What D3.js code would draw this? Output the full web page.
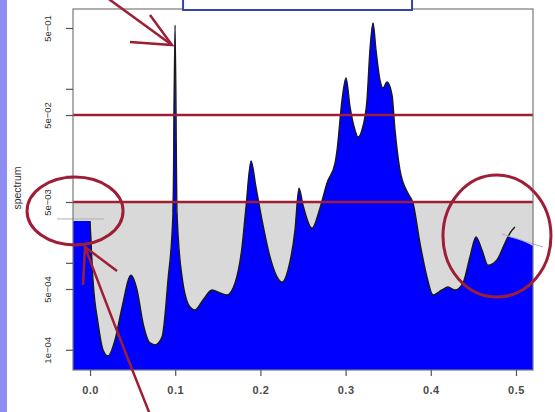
<!DOCTYPE html>
<meta charset="utf-8">
<style>
body { margin: 0; background: #fff; }
svg { display: block; }
</style>
<svg width="555" height="412"></svg>
<script src="https://d3js.org/d3.v7.min.js"></script>
<script>

// spectrum (frequency, spectral value)
const freq = [0, .0035, .0094, .0153, .0211, .0293, .0376, .0481, .0552, .0622,
  .0704, .0763, .0845, .0915, .0974, .0998, .1021, .108, .1174, .1232,
  .1326, .1432, .1526, .1608, .1702, .1784, .1831, .189, .1948, .2019,
  .2113, .2195, .2254, .2324, .2406, .2453, .25, .2606, .27, .2782,
  .2876, .29, .2958, .3005, .3052, .311, .3146, .3192, .3251, .3286,
  .3322, .3357, .3404, .3439, .3486, .3545, .358, .3638, .3732, .3791,
  .3873, .3955, .4026, .4131, .4202, .4284, .4378, .446, .4531, .4601,
  .4671, .4777, .4871, .493, .4988]
const spec = [3.03e-3, 6.3e-4, 2.03e-4, 9.95e-5, 8.5e-5, 1.3e-4, 3.1e-4, 7.2e-4, 4.87e-4, 2.03e-4,
  1.2e-4, 1.14e-4, 1.4e-4, 6.3e-4, 3.7e-3, 0.54, 3.7e-3, 6.9e-4, 3.1e-4, 2.87e-4,
  3.74e-4, 4.87e-4, 4.5e-4, 4.27e-4, 5.86e-4, 1.52e-3, 4.38e-3, 1.48e-2, 7.4e-3, 3.1e-3,
  1.17e-3, 6.9e-4, 6.0e-4, 8.3e-4, 2.38e-3, 7.2e-3, 4.6e-3, 2.5e-3, 4.27e-3, 8.3e-3,
  1.4e-2, 1.98e-2, 7.4e-2, 0.133, 6.2e-2, 3.37e-2, 2.79e-2, 3.37e-2, 7.4e-2, 0.279,
  0.57, 0.279, 0.126, 0.102, 0.12, 8.5e-2, 3.37e-2, 1.17e-2, 6.3e-3, 4.87e-3,
  1.69e-3, 6.9e-4, 4.27e-4, 4.87e-4, 5.27e-4, 4.87e-4, 5.86e-4, 1.17e-3, 1.98e-3, 1.4e-3,
  9.4e-4, 1.08e-3, 1.69e-3, 2.2e-3, 2.58e-3]

// ends of the blue polygon outside the curve
const fillStart = [[-0.02, 3.03e-3]]
const fillEnd = [[0.4906, 1.98e-3], [0.52, 1.56e-3]]

// reference levels (red lines) and the grey band top
const hLines = [5e-2, 5e-3]
const bandTop = 5e-3

// axes
const xTicks = [0, 0.1, 0.2, 0.3, 0.4, 0.5]
const yTicks = [1e-4, 5e-4, 1e-3, 5e-3, 1e-2, 5e-2, 1e-1, 5e-1]
const yLabels = ["1e\u221204", "5e\u221204", "", "5e\u221203", "", "5e\u221202", "", "5e\u221201"]

// stray thin guide lines
const guideLeft = [[-0.0387, 3.19e-3], [0.0164, 3.19e-3]]
const guideRight = [[0.4836, 2.14e-3], [0.5317, 1.52e-3]]

var svg = d3.select("svg")

var pLeft = 73, pRight = 533, pTop = 9, pBottom = 370

var xScale = d3.scaleLinear().domain([-0.02, 0.52]).range([pLeft, pRight])
var yScale = d3.scaleLog().domain([5.86e-5, 0.827]).range([pBottom, pTop])

var red = "#9e1f35"

// lavender strip of the slide
svg.append("rect").attr("x", 0).attr("y", 0).attr("width", 7).attr("height", 412)
  .attr("fill", "#8e8ef2")

// grey band
svg.append("rect")
  .attr("x", pLeft).attr("width", pRight - pLeft)
  .attr("y", yScale(bandTop)).attr("height", pBottom - yScale(bandTop))
  .attr("fill", "#d9d9d9")

var curve = freq.map(function(f, i) { return [f, spec[i]] })
var fillPts = fillStart.concat(curve.filter(function(d) { return d[0] < fillEnd[0][0] }), fillEnd)

svg.append("path")
  .datum(fillPts)
  .attr("fill", "#0000ff")
  .attr("d", d3.area()
    .x(function(d) { return xScale(d[0]) })
    .y0(pBottom)
    .y1(function(d) { return yScale(d[1]) })
    .curve(d3.curveMonotoneX))

var line = d3.line()
  .x(function(d) { return xScale(d[0]) })
  .y(function(d) { return yScale(d[1]) })

svg.append("path")
  .datum(curve)
  .attr("fill", "none")
  .attr("stroke", "#1a1a1a")
  .attr("stroke-width", 1.4)
  .attr("d", line.curve(d3.curveMonotoneX))

var straight = d3.line().x(function(d) { return xScale(d[0]) }).y(function(d) { return yScale(d[1]) })
svg.append("path").datum(guideLeft)
  .attr("fill", "none").attr("stroke", "#b0b0b0").attr("stroke-width", 1)
  .attr("d", straight)
svg.append("path").datum(guideRight)
  .attr("fill", "none").attr("stroke", "#a8aed0").attr("stroke-width", 1)
  .attr("d", straight)

// red reference lines
svg.selectAll(".hline").data(hLines).enter().append("line")
  .attr("x1", pLeft).attr("x2", pRight)
  .attr("y1", function(d) { return yScale(d) }).attr("y2", function(d) { return yScale(d) })
  .attr("stroke", red).attr("stroke-width", 2.5)

// plot box
svg.append("rect")
  .attr("x", pLeft).attr("y", pTop).attr("width", pRight - pLeft).attr("height", pBottom - pTop)
  .attr("fill", "none").attr("stroke", "#7a7a7a").attr("stroke-width", 1.2)

// y axis
var yAxis = svg.append("g").attr("transform", "translate(" + pLeft + ",0)")
  .call(d3.axisLeft(yScale).tickValues(yTicks).tickSize(7).tickPadding(0)
    .tickFormat(function(d, i) { return yLabels[i] }))
yAxis.select(".domain").remove()
yAxis.selectAll("line").attr("stroke", "#555").attr("stroke-width", 1.2)
yAxis.selectAll("text")
  .attr("x", 0).attr("y", 0).attr("dy", "0.35em")
  .attr("transform", "translate(-25,0)rotate(-90)")
  .attr("text-anchor", "middle")
  .style("font-family", "Liberation Sans, Arial, sans-serif")
  .style("font-size", "9.5px")
  .attr("fill", "#333")

// x axis
var xAxis = svg.append("g").attr("transform", "translate(0," + pBottom + ")")
  .call(d3.axisBottom(xScale).tickValues(xTicks).tickSize(6).tickPadding(10)
    .tickFormat(d3.format(".1f")))
xAxis.select(".domain").remove()
xAxis.selectAll("line").attr("stroke", "#555").attr("stroke-width", 1.2)
xAxis.selectAll("text")
  .style("font-family", "Liberation Sans, Arial, sans-serif")
  .style("font-size", "11px")
  .style("font-weight", "bold")
  .style("letter-spacing", "0.5px")
  .attr("fill", "#4a4a4a")

// y label
svg.append("text")
  .attr("transform", "translate(21,188)rotate(-90)")
  .attr("text-anchor", "middle")
  .style("font-family", "Liberation Sans, Arial, sans-serif")
  .style("font-size", "10.5px")
  .attr("fill", "#333")
  .text("spectrum")

// title box of the slide, cut off at the top
svg.append("rect")
  .attr("x", xScale(0.1092)).attr("y", -20)
  .attr("width", xScale(0.378) - xScale(0.1092)).attr("height", 30)
  .attr("fill", "#fff").attr("stroke", "#3344aa").attr("stroke-width", 2)

// hand drawn annotations, anchored in data space
var circles = [
  {f: -0.0176, v: 3.94e-3, rx: 48, ry: 34},
  {f: 0.4777, v: 2.03e-3, rx: 54, ry: 61}
]
svg.selectAll(".ring").data(circles).enter().append("ellipse")
  .attr("cx", function(d) { return xScale(d.f) })
  .attr("cy", function(d) { return yScale(d.v) })
  .attr("rx", function(d) { return d.rx })
  .attr("ry", function(d) { return d.ry })
  .attr("fill", "none").attr("stroke", red).attr("stroke-width", 3)

var arrows = [
  {f: 0.0962, v: 0.319, shaft: "M-66,-48 Q-30,-22 0,0", head: "M-22,-30 L0,0 L-42,-3"},
  {f: -0.0059, v: 1.52e-3, shaft: "M66,170 Q28,75 0,0", head: "M32,24 L0,0 L-2,38"}
]
var ag = svg.selectAll(".arrow").data(arrows).enter().append("g")
  .attr("transform", function(d) { return "translate(" + xScale(d.f) + "," + yScale(d.v) + ")" })
ag.append("path").attr("d", function(d) { return d.shaft })
  .attr("fill", "none").attr("stroke", red).attr("stroke-width", 2.5)
ag.append("path").attr("d", function(d) { return d.head })
  .attr("fill", "none").attr("stroke", red).attr("stroke-width", 2.5)

</script>
